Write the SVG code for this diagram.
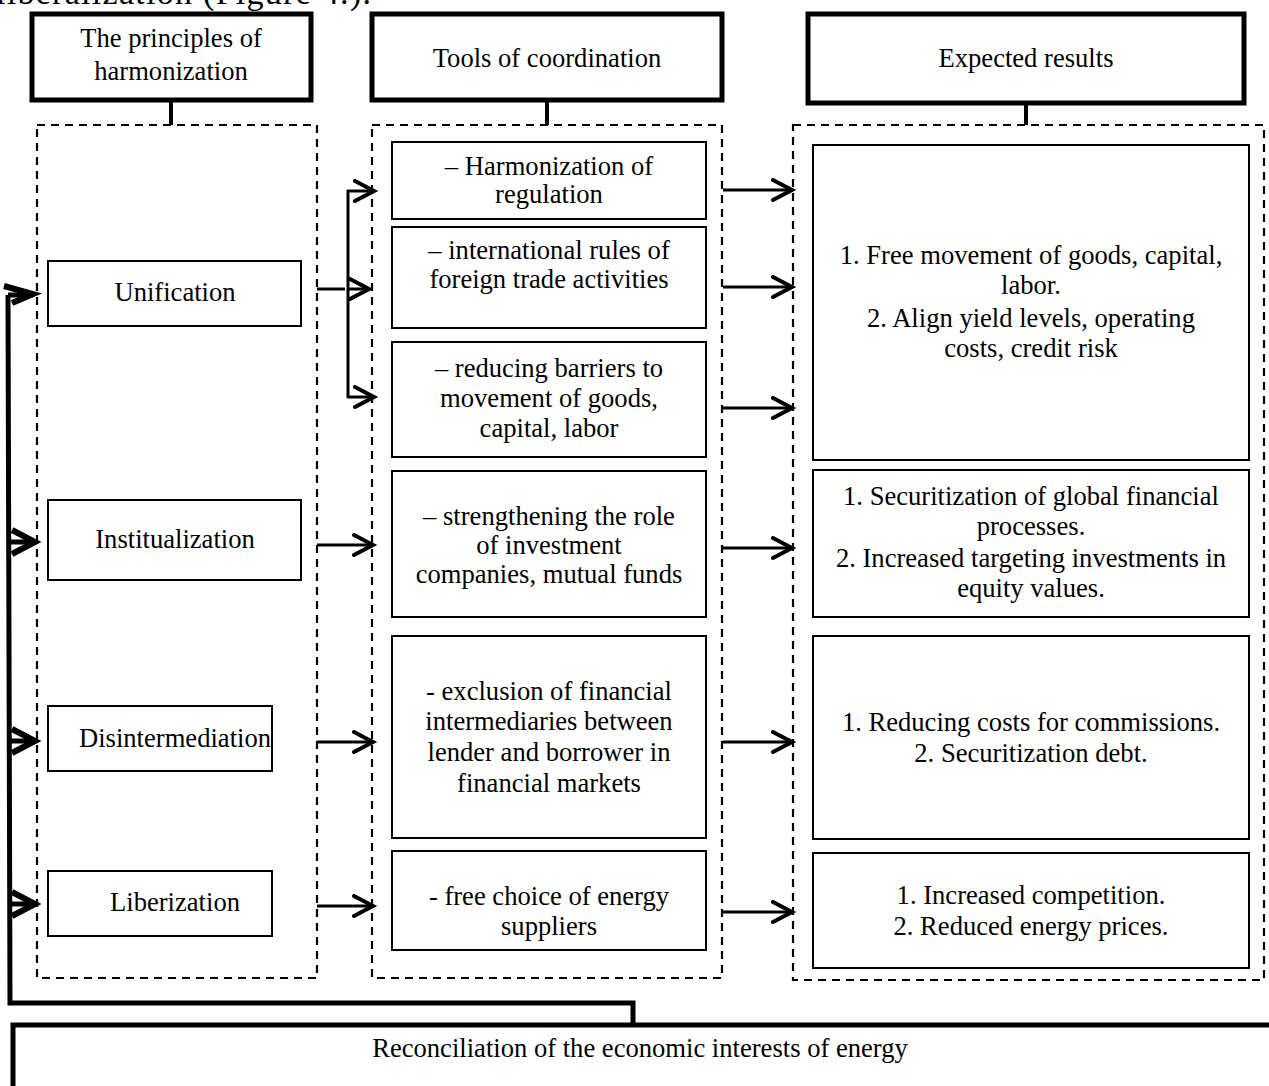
<svg xmlns="http://www.w3.org/2000/svg" width="1269" height="1086" viewBox="0 0 1269 1086">
<style>
text{font-family:"Liberation Serif","Times New Roman",serif;font-size:26.6px;fill:#000;text-anchor:middle}
.hdr{fill:#fff;stroke:#000;stroke-width:5}
.dash{fill:none;stroke:#000;stroke-width:2.2;stroke-dasharray:8,6}
.box{fill:#fff;stroke:#000;stroke-width:2}
.stem{stroke:#000;stroke-width:4;fill:none}
.ar{stroke:#000;stroke-width:3;fill:none}
.thick{stroke:#000;stroke-width:5;fill:none}
.chev{stroke:#000;stroke-width:4;fill:none;stroke-linecap:round;stroke-linejoin:miter}
.chevL{stroke:#000;stroke-width:6;fill:none;stroke-linejoin:miter}
</style>
<defs>
<marker id="arr" markerUnits="userSpaceOnUse" markerWidth="26" markerHeight="28" refX="21" refY="12" orient="auto">
<path d="M2,2 L21,12 L2,22" class="chev"/>
</marker>
</defs>
<text x="-4" y="4" textLength="375" lengthAdjust="spacing" style="text-anchor:start;font-size:34px">liberalization (Figure 4.).</text>

<g id="hdr1"><rect class="hdr" x="32" y="14" width="279" height="86"/><text x="171" y="47">The principles of</text><text x="171" y="80">harmonization</text></g>
<g id="hdr2"><rect class="hdr" x="372" y="14" width="350" height="86"/><text x="547" y="67">Tools of coordination</text></g>
<g id="hdr3"><rect class="hdr" x="808" y="14" width="436" height="89"/><text x="1026" y="67">Expected results</text></g>

<g id="col1"><rect class="dash" x="37" y="125" width="280" height="853"/></g>
<g id="col2"><rect class="dash" x="372" y="125" width="350" height="853"/></g>
<g id="col3"><rect class="dash" x="793" y="125" width="471" height="855"/></g>

<g id="unification"><rect class="box" x="48" y="261" width="253" height="65"/><text x="175" y="301">Unification</text></g>
<g id="institualization"><rect class="box" x="48" y="500" width="253" height="80"/><text x="175" y="548">Institualization</text></g>
<g id="disintermediation"><rect class="box" x="48" y="706" width="224" height="65"/><text x="175" y="747">Disintermediation</text></g>
<g id="liberization"><rect class="box" x="48" y="871" width="224" height="65"/><text x="175" y="911">Liberization</text></g>

<g id="tool1"><rect class="box" x="392" y="142" width="314" height="77"/><text x="549" y="175">– Harmonization of</text><text x="549" y="203">regulation</text></g>
<g id="tool2"><rect class="box" x="392" y="227" width="314" height="101"/><text x="549" y="259">– international rules of</text><text x="549" y="288">foreign trade activities</text></g>
<g id="tool3"><rect class="box" x="392" y="342" width="314" height="115"/><text x="549" y="377">– reducing barriers to</text><text x="549" y="407">movement of goods,</text><text x="549" y="437">capital, labor</text></g>
<g id="tool4"><rect class="box" x="392" y="471" width="314" height="146"/><text x="549" y="525">– strengthening the role</text><text x="549" y="554">of investment</text><text x="549" y="583">companies, mutual funds</text></g>
<g id="tool5"><rect class="box" x="392" y="636" width="314" height="202"/><text x="549" y="700">- exclusion of financial</text><text x="549" y="730">intermediaries between</text><text x="549" y="761">lender and borrower in</text><text x="549" y="792">financial markets</text></g>
<g id="tool6"><rect class="box" x="392" y="851" width="314" height="99"/><text x="549" y="905">- free choice of energy</text><text x="549" y="935">suppliers</text></g>

<g id="res1"><rect class="box" x="813" y="145" width="436" height="315"/><text x="1031" y="264">1. Free movement of goods, capital,</text><text x="1031" y="294">labor.</text><text x="1031" y="327">2. Align yield levels, operating</text><text x="1031" y="357">costs, credit risk</text></g>
<g id="res2"><rect class="box" x="813" y="470" width="436" height="147"/><text x="1031" y="505">1. Securitization of global financial</text><text x="1031" y="535">processes.</text><text x="1031" y="567">2. Increased targeting investments in</text><text x="1031" y="597">equity values.</text></g>
<g id="res3"><rect class="box" x="813" y="636" width="436" height="203"/><text x="1031" y="731">1. Reducing costs for commissions.</text><text x="1031" y="762">2. Securitization debt.</text></g>
<g id="res4"><rect class="box" x="813" y="853" width="436" height="115"/><text x="1031" y="904">1. Increased competition.</text><text x="1031" y="935">2. Reduced energy prices.</text></g>

<g id="reconciliation"><rect class="hdr" x="13" y="1025" width="1300" height="120"/><text x="640" y="1057">Reconciliation of the economic interests of energy</text></g>

<g id="connectors">
<line class="stem" x1="171" y1="100" x2="171" y2="125"/>
<line class="stem" x1="547" y1="100" x2="547" y2="125"/>
<line class="stem" x1="1026" y1="103" x2="1026" y2="125"/>
<line class="ar" x1="317" y1="289" x2="345" y2="289"/>
<line class="ar" x1="348" y1="190" x2="348" y2="398"/>
<line class="ar" x1="347" y1="191" x2="374" y2="191" marker-end="url(#arr)"/>
<line class="ar" x1="348" y1="289" x2="369" y2="289" marker-end="url(#arr)"/>
<line class="ar" x1="347" y1="397" x2="374" y2="397" marker-end="url(#arr)"/>
<line class="ar" x1="317" y1="545" x2="373" y2="545" marker-end="url(#arr)"/>
<line class="ar" x1="317" y1="742" x2="373" y2="742" marker-end="url(#arr)"/>
<line class="ar" x1="317" y1="906" x2="373" y2="906" marker-end="url(#arr)"/>
<line class="ar" x1="723" y1="190" x2="792" y2="190" marker-end="url(#arr)"/>
<line class="ar" x1="723" y1="287" x2="792" y2="287" marker-end="url(#arr)"/>
<line class="ar" x1="723" y1="408" x2="792" y2="408" marker-end="url(#arr)"/>
<line class="ar" x1="723" y1="548" x2="792" y2="548" marker-end="url(#arr)"/>
<line class="ar" x1="723" y1="742" x2="792" y2="742" marker-end="url(#arr)"/>
<line class="ar" x1="723" y1="912" x2="792" y2="912" marker-end="url(#arr)"/>
<path class="thick" d="M633,1025 L633,1003 L10,1003 L8,295"/>
<line class="thick" x1="8" y1="295" x2="33" y2="295"/>
<path class="chevL" d="M4,286 L33,294 L12,303"/>
<line class="thick" x1="10" y1="542" x2="34" y2="542"/>
<path class="chevL" d="M12,530 L35,542 L12,554"/>
<line class="thick" x1="10" y1="741" x2="34" y2="741"/>
<path class="chevL" d="M12,729 L35,741 L12,753"/>
<line class="thick" x1="11" y1="904" x2="34" y2="904"/>
<path class="chevL" d="M12,892 L35,904 L12,916"/>
</g>
</svg>
